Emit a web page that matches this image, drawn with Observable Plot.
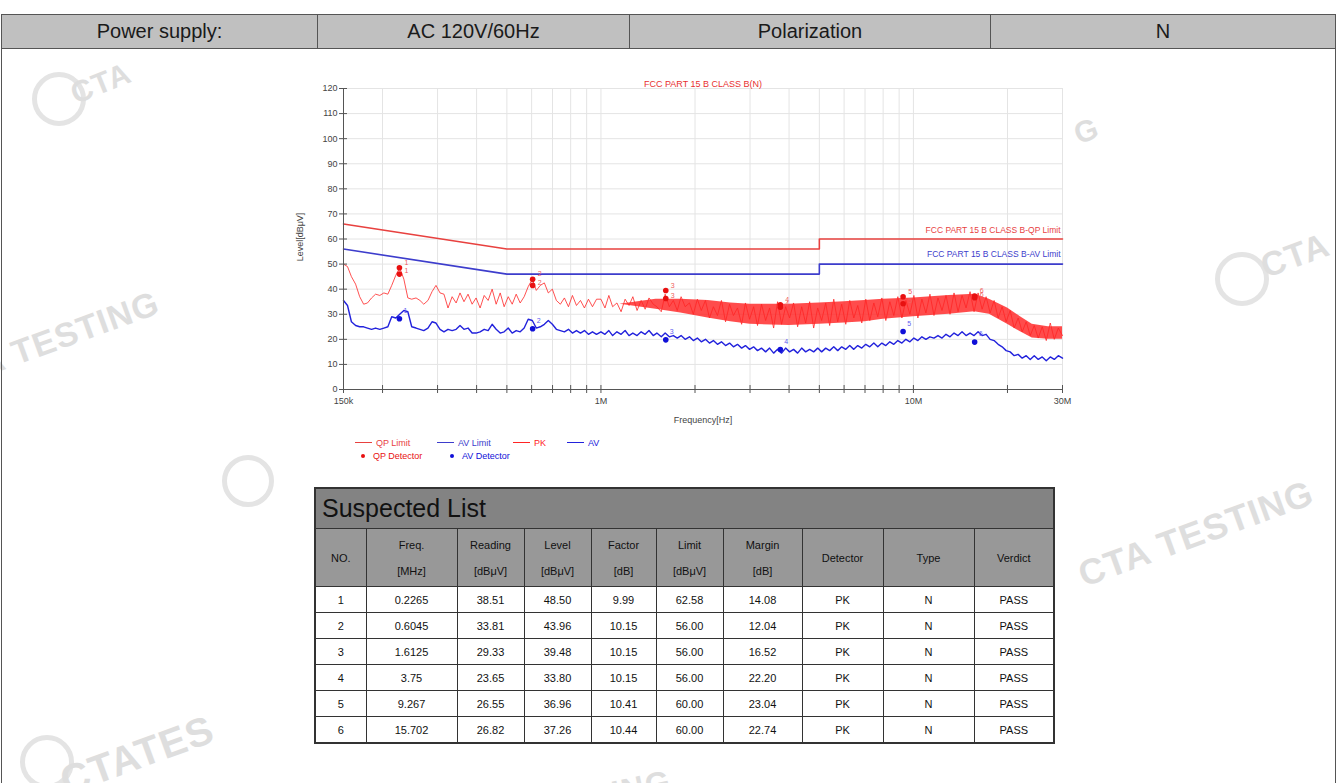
<!DOCTYPE html>
<html><head><meta charset="utf-8">
<script src="https://cdn.jsdelivr.net/npm/d3@7"></script>
<script src="https://cdn.jsdelivr.net/npm/@observablehq/plot@0.6"></script>
<style>
html,body{margin:0;padding:0;background:#fff;}
body{width:1338px;height:783px;position:relative;overflow:hidden;font-family:"Liberation Sans",Arial,sans-serif;}
.wm{position:absolute;color:#dedede;font-weight:bold;white-space:nowrap;transform-origin:left center;z-index:0;letter-spacing:1px;}
.ring{position:absolute;border:5px solid #e4e4e4;border-radius:50%;z-index:0;}
#frame{position:absolute;left:1px;top:14px;width:1333px;height:780px;border:1px solid #555;z-index:2;pointer-events:none;}
#hdr{position:absolute;left:1px;top:14px;width:1335px;height:35px;border-collapse:collapse;table-layout:fixed;z-index:3;}
#hdr td{background:#c0c0c0;border:1px solid #555;text-align:center;font-size:20px;color:#1a1a1a;padding:0;height:33px;}
#chart{position:absolute;left:272px;top:65px;z-index:1;}
.lg{position:absolute;font-size:9px;line-height:10px;white-space:nowrap;z-index:1;}
.lgline{position:absolute;height:0;border-top:1.5px solid;z-index:1;}
.lgdot{position:absolute;width:4px;height:4px;border-radius:50%;z-index:1;}
#list{position:absolute;left:314px;top:487px;width:739px;border-collapse:collapse;table-layout:fixed;z-index:3;border:2px solid #333;}
#list td{border:1px solid #333;text-align:center;font-size:11px;color:#111;padding:0;}
#list .ttl{background:#838383;text-align:left;font-size:25px;height:39px;padding-left:6px;color:#111;}
#list .hd{background:#989898;height:57px;line-height:26px;color:#111;}
#list .dt{height:25px;background:#fff;}
</style></head><body>
<div class="ring" style="left:32px;top:72px;width:44px;height:44px;"></div>
<div class="wm" style="left:72px;top:78px;font-size:30px;transform:rotate(-22deg);">CTA</div>
<div class="wm" style="left:-62px;top:362px;font-size:34px;transform:rotate(-20deg);">CTA TESTING</div>
<div class="ring" style="left:222px;top:455px;width:42px;height:42px;"></div>
<div class="ring" style="left:1215px;top:252px;width:44px;height:44px;"></div>
<div class="wm" style="left:1262px;top:248px;font-size:34px;transform:rotate(-20deg);">CTA</div>
<div class="wm" style="left:1080px;top:555px;font-size:36px;transform:rotate(-20deg);">CTA TESTING</div>
<div class="wm" style="left:1075px;top:118px;font-size:30px;transform:rotate(-20deg);">G</div>
<div class="ring" style="left:20px;top:735px;width:44px;height:44px;"></div>
<div class="wm" style="left:62px;top:760px;font-size:40px;transform:rotate(-20deg);">CTATES</div>
<div class="wm" style="left:612px;top:775px;font-size:32px;transform:rotate(-12deg);">ING</div>

<div id="frame"></div>
<table id="hdr"><tr>
<td style="width:315px">Power supply:</td><td style="width:311px">AC 120V/60Hz</td><td style="width:360px">Polarization</td><td>N</td>
</tr></table>
<div id="chart"></div>
<div id="legend"></div>
<table id="list"></table>
<script>
// ---------------- data ----------------
const sweepKHz = [150,154.5,159,164,169,174,179,184.5,190,196,202,208,214,220.5,227,234,241,248,256,263.5,
271,279.5,288,296.5,305.5,314.5,324,334,344,354,364.5,375.5,387,398.5,410.5,423,435.5,448.5,462,476,
490,505,520,535.5,551.5,568,585,603,621,639.5,659,678.5,699,720,741.5,764,787,810.5,835,860,
885.5,912,939.5,968,
1000,1030,1060,1090,1125,1160,1195,1230,1265,1305,1345,1385,1425,1470,1510,1560,1605,1655,1705,1755,
1805,1860,1920,1975,2035,2095,2160,2225,2290,2360,2430,2505,2580,2655,2735,2820,2900,2990,3080,3170,
3265,3365,3465,3570,3675,3785,3900,4015,4135,4260,4390,4520,4655,4795,4940,5085,5240,5395,5560,5725,
5895,6075,6255,6445,6635,6835,7040,7250,7470,7690,7925,8160,8405,8655,8915,9185,9460,9745,10035,10335,
10645,10965,11295,11635,11985,12345,12715,13095,13490,13895,14310,14740,15180,15635,16105,16590,17085,17600,18125,18670,
19230,19805,20400,21010,21640,22290,22960,23650,24360,25090,25840,26615,27415,28240,29085,30000];

const pkLevel = [50,49,45,42,37,34,34.5,36.5,38,37.5,38.5,38,41.5,45.5,48.5,44,36.5,36,36.5,35.5,
34,35.5,39,41.5,38.5,38,32.5,37,34.5,38.5,35,38,34,36.5,32.5,37.5,35.5,40,34,38.5,
33,37,34,38,34.5,37,41,44,39.5,41.5,42.5,38.5,40,35.5,34,36.5,33,37.5,33.5,35.5,
32.5,36,33,36,
36,32.5,37.5,33,34.5,31,36,33.5,37,31.5,35.5,32,36.5,34,33,31,38,33,35.5,31.5,
37,33,34.5,30,36,31.5,35.5,28.5,33,29.5,35.5,27,34,29.5,32.5,26,34.5,28,33,25.5,
34,27.5,32.5,24.5,35,26,33,28.5,34.5,25,33,26.5,35,24.5,32.5,27.5,34.5,25.5,36,27,
34,26,35.5,28.5,33.5,26.5,36,27.5,34.5,29,36.5,27.5,35,29.5,37,28.5,35.5,30,37.5,28.5,
36,30.5,38,29.5,36.5,31.5,37.5,30,38.5,31,37.5,32.5,39,31,38.5,32,37,30.5,35.5,28.5,
33,27,31.5,24.5,28.5,23,27,21.5,25.5,20.5,25,19.5,26.5,20,24.5,21.5];

const avLevel = [35.5,33.5,27,25.5,25,25,24.5,24,24.5,24,24.5,25,29,28.5,30,31.5,31,25,24.5,24,
23.5,24.5,27,26.5,24,23,24,23.5,24,25.5,24,24.5,22.5,22.5,23,24,23.5,26,24,22.5,
23,24.5,22.5,23.5,23,24.5,28,27.5,24.5,25,26,27.5,26,24,23.5,23,24,22.5,23.5,22.5,
23.5,22,23,22,
23,22,23.5,21.5,23,22,23.5,21.5,22.5,21.5,23,22,23.5,21.5,22.5,21,22.5,21,21.5,20.5,
21.5,20,21,19.5,20.5,19,20,18.5,19.5,18,19,17.5,18.5,17,18,16.5,17.5,16,17,15.5,
16.5,15,16.5,14.5,16,14.5,16.5,15,16,14.5,16.5,15,16,15,16.5,15,16.5,15.5,17,15.5,
17,16,17.5,16,17.5,16.5,18,17,18.5,17,18.5,17.5,19,18,19.5,18.5,20,19,20.5,19.5,
21,20,21,20.5,21.5,20.5,22,21,22.5,21.5,23,21.5,22.5,21.5,23,21.5,22,20,19.5,18,
17,15.5,15,13.5,14,12.5,13.5,12,13.5,12,13,11.5,13,12,13.5,12.5];

// dense PK band envelope
const bandKHz = [1150,1500,1800,2200,2600,3000,4000,5000,6000,7000,8000,10000,13000,15700,17500,20000,22000,24000,27000,30000];
const pkBandLo = [34,32,30.5,28.5,27,26,25.5,26,26.5,27,28,29,30,31,30,26,23,20.5,20,20];
const pkBandHi = [34,36,36,35.5,34.5,34,34,34.5,35,35.5,36,36.5,37.5,38,36,32.5,29,26,25,25];

// limits
const limitMHz = [0.15,0.5,5,5,30];
const qpLimit = [66,56,56,60,60];
const avLimit = [56,46,46,50,50];

// suspected list
const sNo = [1,2,3,4,5,6];
const sFreq = ["0.2265","0.6045","1.6125","3.75","9.267","15.702"];
const sReading = ["38.51","33.81","29.33","23.65","26.55","26.82"];
const sLevel = ["48.50","43.96","39.48","33.80","36.96","37.26"];
const sFactor = ["9.99","10.15","10.15","10.15","10.41","10.44"];
const sLimit = ["62.58","56.00","56.00","56.00","60.00","60.00"];
const sMargin = ["14.08","12.04","16.52","22.20","23.04","22.74"];
const sDetector = ["PK","PK","PK","PK","PK","PK"];
const sType = ["N","N","N","N","N","N"];
const sVerdict = ["PASS","PASS","PASS","PASS","PASS","PASS"];
const qpDetector = [46,41.5,36.3,32.8,34.2,36.6];
const avDetector = [28.2,24.2,19.8,15.9,23.1,18.9];

const xTicks = [0.15,0.2,0.3,0.4,0.5,0.6,0.7,0.8,0.9,1,2,3,4,5,6,7,8,9,10,20,30];
const xTickLabels = {0.15:"150k",1:"1M",10:"10M",30:"30M"};
const yTicks = [0,10,20,30,40,50,60,70,80,90,100,110,120];

// ---------------- build ----------------
const RED = "#ff2424", BLUE = "#2222dc", LRED = "#e8413f", LBLUE = "#3d3dcc";
const sweep = sweepKHz.map((k,i)=>({f:k/1000, pk:pkLevel[i], av:avLevel[i]}));
const band = bandKHz.map((k,i)=>({f:k/1000, lo:pkBandLo[i], hi:pkBandHi[i]}));
const qpLim = limitMHz.map((f,i)=>({f, y:qpLimit[i]}));
const avLim = limitMHz.map((f,i)=>({f, y:avLimit[i]}));
const marks = sNo.map((n,i)=>({no:String(n), f:+sFreq[i], pk:+sLevel[i], qp:qpDetector[i], av:avDetector[i]}));

const chart = Plot.plot({
  width: 796, height: 365,
  marginLeft: 71, marginRight: 6, marginTop: 23, marginBottom: 41,
  x: {type:"log", domain:[0.15,30]},
  y: {domain:[0,120]},
  style: {fontFamily:"'Liberation Sans', Arial, sans-serif", fontSize:"9px", color:"#444", background:"transparent", overflow:"visible"},
  marks: [
    Plot.gridX(xTicks, {stroke:"#e4e4e4", strokeOpacity:1}),
    Plot.gridY(yTicks, {stroke:"#e4e4e4", strokeOpacity:1}),
    Plot.line(qpLim, {x:"f", y:"y", stroke:LRED, strokeWidth:1.6}),
    Plot.line(avLim, {x:"f", y:"y", stroke:LBLUE, strokeWidth:1.6}),
    Plot.areaY(band, {x:"f", y1:"lo", y2:"hi", fill:RED, fillOpacity:0.82}),
    Plot.line(sweep, {x:"f", y:"pk", stroke:RED, strokeWidth:0.8}),
    Plot.line(sweep, {x:"f", y:"av", stroke:BLUE, strokeWidth:1.4}),
    Plot.ruleX([0.15], {stroke:"#555", strokeWidth:1}),
    Plot.ruleY([0], {stroke:"#555", strokeWidth:1}),
    Plot.axisX({ticks:xTicks, tickFormat:d=>xTickLabels[d] ?? "", tickSize:8, dy:-4, tickPadding:4, stroke:"#555", label:null}),
    Plot.axisY({ticks:yTicks, tickSize:8, dx:4, tickPadding:2, stroke:"#555", label:null}),
    Plot.text(["Frequency[Hz]"], {frameAnchor:"bottom", dy:33, fill:"#444", fontSize:9}),
    Plot.text(["Level[dBμV]"], {frameAnchor:"left", textAnchor:"middle", dx:-43, dy:-2, rotate:-90, fill:"#444", fontSize:9}),
    Plot.text(["FCC PART 15 B CLASS B(N)"], {frameAnchor:"top", dy:-8, fill:"#e83030", fontSize:9}),
    Plot.text([{f:30,y:qpLimit[4],t:"FCC PART 15 B CLASS B-QP Limit"}], {x:"f", y:"y", text:"t", textAnchor:"end", dx:-2, dy:-9, fill:LRED, fontSize:8.5}),
    Plot.text([{f:30,y:avLimit[4],t:"FCC PART 15 B CLASS B-AV Limit"}], {x:"f", y:"y", text:"t", textAnchor:"end", dx:-2, dy:-10, fill:LBLUE, fontSize:8.5}),
    Plot.dot(marks, {x:"f", y:"pk", r:2.8, fill:"#e81010", stroke:null}),
    Plot.dot(marks, {x:"f", y:"qp", r:2.8, fill:"#e81010", stroke:null}),
    Plot.dot(marks, {x:"f", y:"av", r:2.8, fill:"#1010d8", stroke:null}),
    Plot.text(marks, {x:"f", y:"pk", text:"no", dx:7, dy:-5, fill:"#f06060", fontSize:7}),
    Plot.text(marks, {x:"f", y:"qp", text:"no", dx:7, dy:-3, fill:"#f06060", fontSize:7}),
    Plot.text(marks, {x:"f", y:"av", text:"no", dx:6, dy:-8, fill:"#6060f0", fontSize:7})
  ]
});
document.getElementById("chart").appendChild(chart);

// legend
const legendItems = [
  {kind:"line", color:LRED, label:"QP Limit", x:355, y:443},
  {kind:"line", color:LBLUE, label:"AV Limit", x:437, y:443},
  {kind:"line", color:RED, label:"PK", x:513, y:443},
  {kind:"line", color:BLUE, label:"AV", x:567, y:443},
  {kind:"dot", color:"#e81010", label:"QP Detector", x:361, y:456},
  {kind:"dot", color:"#1010d8", label:"AV Detector", x:450, y:456}
];
const lg = document.getElementById("legend");
for (const it of legendItems) {
  const sw = document.createElement("div");
  if (it.kind === "line") {
    sw.className = "lgline"; sw.style.left = it.x+"px"; sw.style.top = (it.y-1)+"px"; sw.style.width = "17px"; sw.style.borderColor = it.color;
  } else {
    sw.className = "lgdot"; sw.style.left = it.x+"px"; sw.style.top = (it.y-2)+"px"; sw.style.background = it.color;
  }
  lg.appendChild(sw);
  const t = document.createElement("div");
  t.className = "lg"; t.textContent = it.label; t.style.color = it.color;
  t.style.left = (it.x + (it.kind==="line"?21:12)) + "px"; t.style.top = (it.y-5)+"px";
  lg.appendChild(t);
}

// suspected list table
const colW = [51,91,67,67,65,67,79,81,91,80];
const heads = [["NO."],["Freq.","[MHz]"],["Reading","[dBμV]"],["Level","[dBμV]"],["Factor","[dB]"],["Limit","[dBμV]"],["Margin","[dB]"],["Detector"],["Type"],["Verdict"]];
const tbl = document.getElementById("list");
let html = '<colgroup>' + colW.map(w=>`<col style="width:${w}px">`).join("") + '</colgroup>';
html += `<tr><td class="ttl" colspan="10">Suspected List</td></tr>`;
html += '<tr>' + heads.map(h=>`<td class="hd">${h.join("<br>")}</td>`).join("") + '</tr>';
sNo.forEach((n,i)=>{
  const row = [n,sFreq[i],sReading[i],sLevel[i],sFactor[i],sLimit[i],sMargin[i],sDetector[i],sType[i],sVerdict[i]];
  html += '<tr>' + row.map(v=>`<td class="dt">${v}</td>`).join("") + '</tr>';
});
tbl.innerHTML = html;
</script>
</body></html>
